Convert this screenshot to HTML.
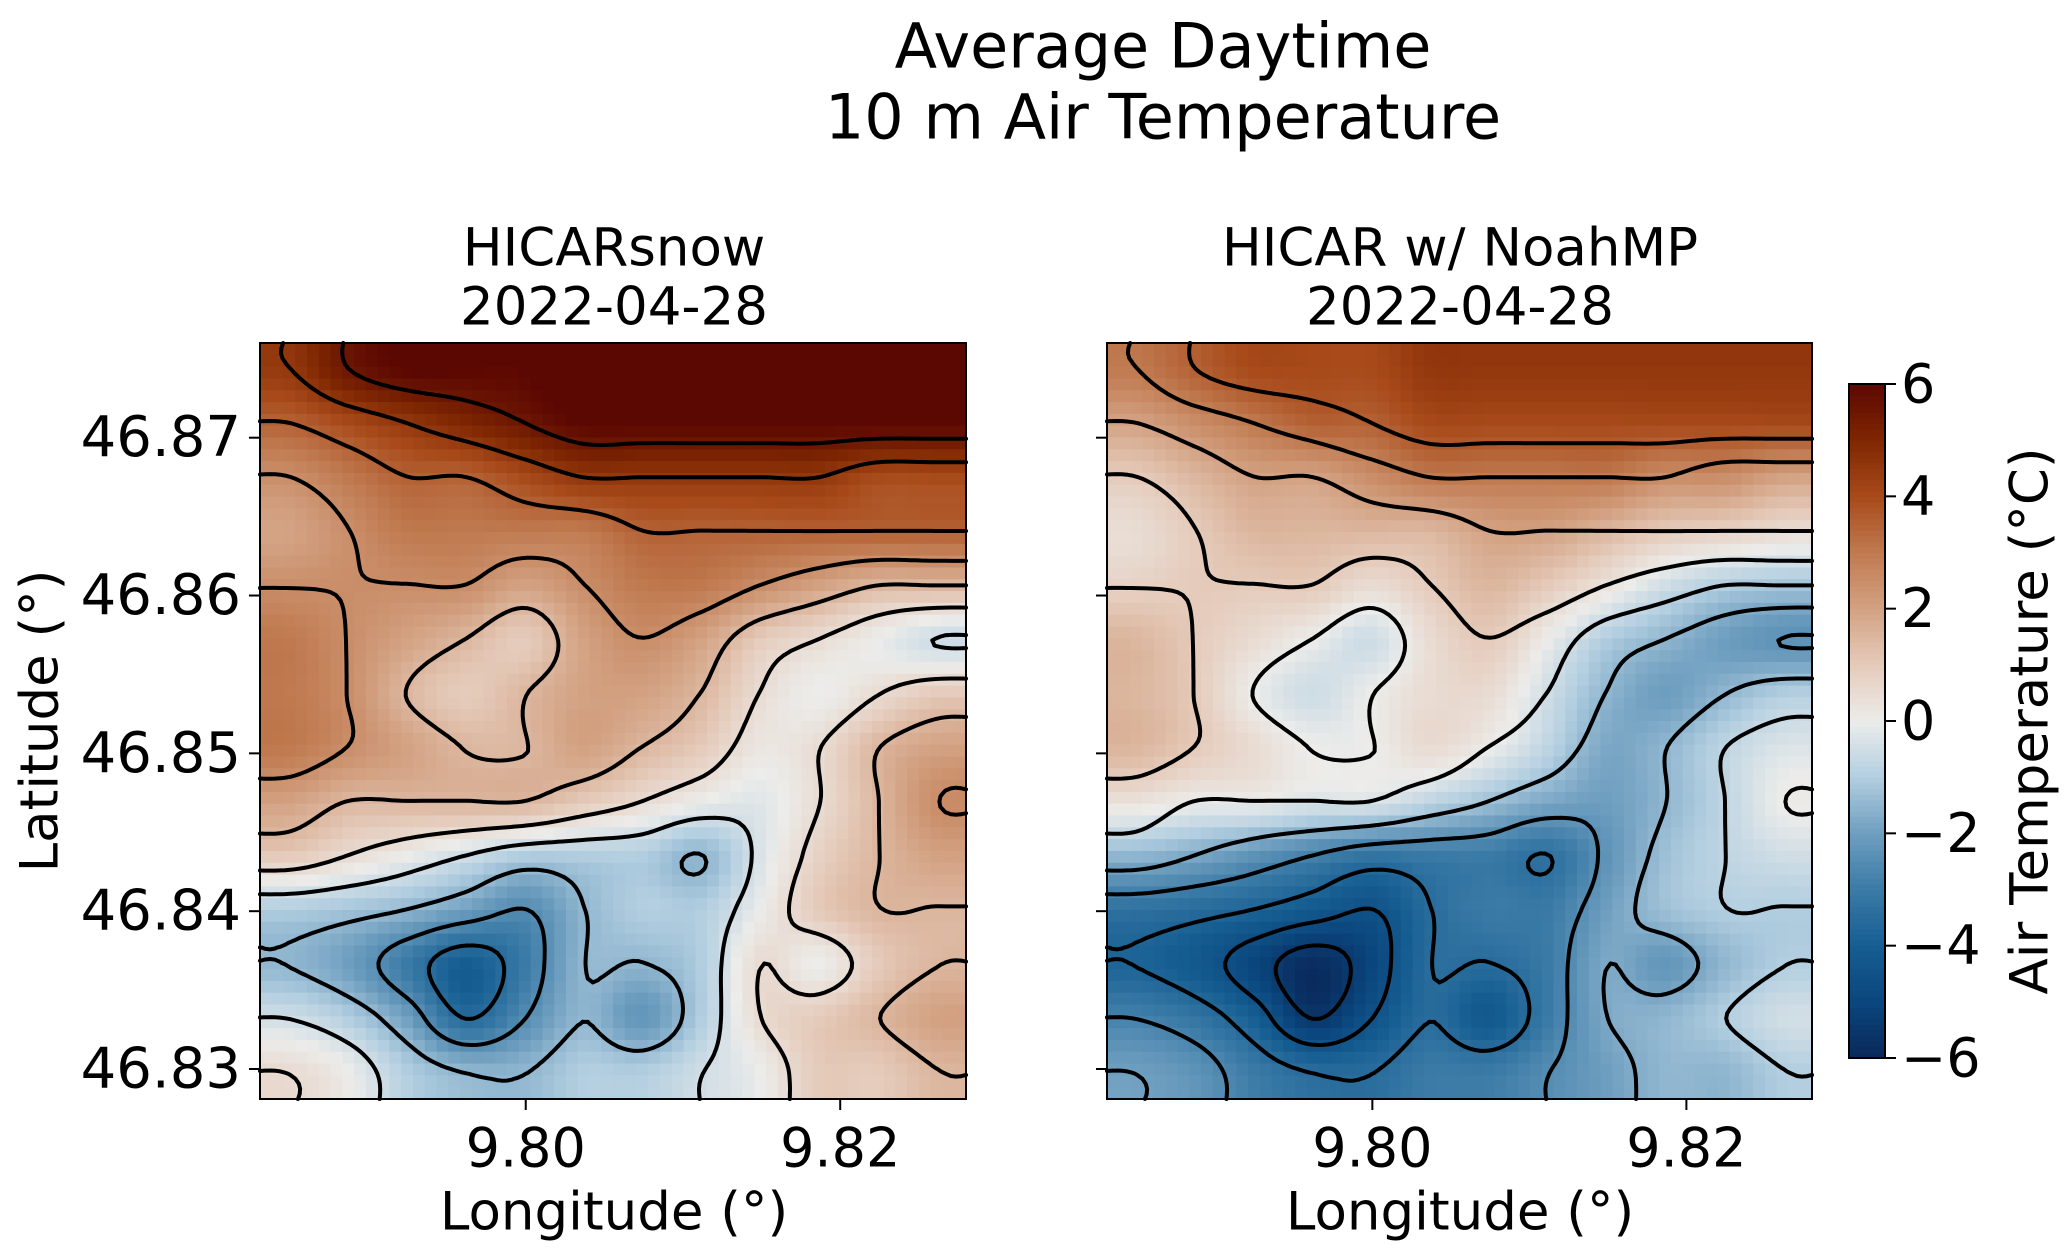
<!DOCTYPE html>
<html><head><meta charset="utf-8"><style>
html,body{margin:0;padding:0;background:#fff;}
svg text{font-family:"DejaVu Sans","Liberation Sans",sans-serif;fill:#000;}
</style></head><body>
<svg id="fig" width="2067" height="1253" viewBox="0 0 2067 1253" xmlns="http://www.w3.org/2000/svg">
<rect width="2067" height="1253" fill="#fff"/>
<text x="1163" y="46" font-size="62" text-anchor="middle" dominant-baseline="central">Average Daytime</text>
<text x="1163" y="117" font-size="62" text-anchor="middle" dominant-baseline="central">10 m Air Temperature</text>
<text x="614" y="248" font-size="53" text-anchor="middle" dominant-baseline="central">HICARsnow</text>
<text x="614" y="307" font-size="53" text-anchor="middle" dominant-baseline="central">2022-04-28</text>
<text x="1460" y="248" font-size="53" text-anchor="middle" dominant-baseline="central">HICAR w/ NoahMP</text>
<text x="1460" y="307" font-size="53" text-anchor="middle" dominant-baseline="central">2022-04-28</text>
<text x="40" y="721" font-size="53" text-anchor="middle" dominant-baseline="central" transform="rotate(-90 40 721)">Latitude (°)</text>
<text x="614" y="1212" font-size="53" text-anchor="middle" dominant-baseline="central">Longitude (°)</text>
<text x="1460" y="1212" font-size="53" text-anchor="middle" dominant-baseline="central">Longitude (°)</text>
<text x="2030" y="721" font-size="53" text-anchor="middle" dominant-baseline="central" transform="rotate(-90 2030 721)">Air Temperature (°C)</text>
<g id="left-panel"></g>
<g id="right-panel"></g>
<g id="colorbar"></g>
</svg>
<script>
const lonMin = 9.7831, lonMax = 9.8280, latMin = 46.8281, latMax = 46.8760;
const xTicks = [9.80, 9.82];
const xTickLabels = ["9.80", "9.82"];
const yTicks = [46.83, 46.84, 46.85, 46.86, 46.87];
const yTickLabels = ["46.83", "46.84", "46.85", "46.86", "46.87"];
const cbarTicks = [-6, -4, -2, 0, 2, 4, 6];
const cbarTickLabels = ["\u22126", "\u22124", "\u22122", "0", "2", "4", "6"];
const contourLevels = [-3.48, -2.48, -1.48, -0.48, 0.52, 1.52, 2.52, 3.52, 4.52, 5.52];
// rows top (north) to bottom (south), cols west to east
const tempSnow = [
 [4.5,5.5,6,6,6,6.5,6.5,6.5,6.5,6.5,6.5,6.5],
 [3.5,4,4.5,5,5.5,6,6,6,6,6,6,6],
 [2.5,3,3.5,3.5,4,4.5,4.5,4.5,4.5,4.5,4,4],
 [2,2.5,3,3,3,3,3.5,3.5,3.5,3.5,3.5,3.5],
 [2.5,2.5,2.5,2.5,2,2.5,3,3,2.5,2,1.5,1.5],
 [3,2.5,2,1.5,1,2,2.5,2,1,0.5,0,-0.5],
 [3,2.5,1.5,1,1.5,2,2,1.5,0.5,0,0.5,1],
 [3,2.5,2,1.5,1.5,2,1.5,1,0.2,0.5,1.5,2],
 [2,1.5,1.5,1.5,1.5,1,0.5,0,-0.2,0.5,1.5,2.5],
 [1,0.5,0,-0.5,-1,-1,-1,-1.5,-0.3,0.8,1.5,2],
 [-1,-1.2,-1.5,-2,-2.5,-1.5,-1,-1,0,1,1.5,1.5],
 [-1.5,-2,-3,-4,-3,-1.5,-1.5,-1,0.5,0,1,1.5],
 [-0.5,-1,-2,-3.5,-2.5,-1.5,-2.2,-1,0.5,1,1.5,2],
 [0.5,0,-1,-1.5,-1.5,-1,-1,-0.5,0,1,1,1.5]
];
const tempNoah = [
 [3,3.5,4,4,4,4.5,4.5,4.5,4.5,4.5,4.5,4.5],
 [2,2.5,3,3.5,3.5,4,4,4,4,4,4,4],
 [1,1.5,2,2,2.5,3,3,3,3,2.5,2.5,2],
 [0.5,1,1.5,1.5,1.5,1.5,2,2,1.5,1,0.8,0.5],
 [0.8,1,1,1,0.5,1,1.5,1,0.3,-0.5,-1,-1.2],
 [1.5,1,0.5,0,-0.5,0.5,1,0,-1,-1.5,-2,-2.3],
 [1.5,1,0,-0.5,0,0.5,0.5,-0.5,-1.5,-2,-1.5,-1],
 [1.5,1,0.5,0,0,0.5,0,-0.8,-1.8,-1.5,-0.8,-0.3],
 [0.3,0,0,-0.3,-0.3,-0.8,-1.3,-1.8,-2,-1.5,-0.8,0],
 [-1.5,-1.8,-2.3,-2.8,-3.2,-3,-3,-3.3,-2.3,-1.3,-0.8,-0.5],
 [-3.3,-3.5,-3.8,-4.2,-4.5,-3.5,-3,-3,-2,-1.3,-1,-1],
 [-3.8,-4.2,-5,-5.8,-5,-3.5,-3.5,-3,-1.8,-2.2,-1.5,-1],
 [-2.8,-3.2,-4,-5.5,-4.5,-3.5,-4.2,-3,-1.8,-1.5,-1,-0.5],
 [-2,-2.3,-3,-3.5,-3.5,-3,-3,-2.5,-2,-1.5,-1.5,-1]
];

const NS = "http://www.w3.org/2000/svg";
const colorStops = [
 [-6,[10,40,90]],[-5,[10,70,125]],[-4,[22,94,146]],[-3,[58,122,166]],[-2,[110,158,191]],
 [-1,[178,206,224]],[0,[236,236,234]],[1,[229,203,187]],[2,[211,162,131]],
 [3,[192,122,80]],[4,[168,74,26]],[5,[127,39,2]],[6,[92,8,2]]
];
function cmap(v){
  if(v<=-6) return "rgb(10,40,90)";
  if(v>=6) return "rgb(92,8,2)";
  for(let i=0;i<colorStops.length-1;i++){
    const a=colorStops[i], b=colorStops[i+1];
    if(v>=a[0]&&v<=b[0]){
      const t=(v-a[0])/(b[0]-a[0]);
      const c=a[1].map((x,k)=>Math.round(x+(b[1][k]-x)*t));
      return "rgb("+c.join(",")+")";
    }
  }
}
function el(tag, attrs, parent){
  const e=document.createElementNS(NS,tag);
  for(const k in attrs) e.setAttribute(k, attrs[k]);
  parent.appendChild(e); return e;
}
function cr(p0,p1,p2,p3,t){
  return 0.5*((2*p1)+(-p0+p2)*t+(2*p0-5*p1+4*p2-p3)*t*t+(-p0+3*p1-3*p2+p3)*t*t*t);
}
function sample(grid, u, v){ // bicubic Catmull-Rom, u east, v south
  const R=grid.length, C=grid[0].length;
  const fx=u*C-0.5, fy=v*R-0.5;
  const x1=Math.floor(fx), y1=Math.floor(fy);
  const tx=fx-x1, ty=fy-y1;
  const g=(y,x)=>grid[Math.max(0,Math.min(R-1,y))][Math.max(0,Math.min(C-1,x))];
  const rows=[];
  for(let dy=-1;dy<=2;dy++) rows.push(cr(g(y1+dy,x1-1),g(y1+dy,x1),g(y1+dy,x1+1),g(y1+dy,x1+2),tx));
  return cr(rows[0],rows[1],rows[2],rows[3],ty);
}
function drawPanel(gid, X0, X1, Y0, Y1, grid, contourGrid, showYLabels){
  const g=document.getElementById(gid);
  const xS=lon=>X0+(lon-lonMin)/(lonMax-lonMin)*(X1-X0);
  const yS=lat=>Y1-(lat-latMin)/(latMax-latMin)*(Y1-Y0);
  const NX=60, NY=64;
  const cw=(X1-X0)/NX, ch=(Y1-Y0)/NY;
  const hm=el("g",{},g);
  
  
  for(let j=0;j<NY;j++) for(let i=0;i<NX;i++){
    const lon=lonMin+(i+0.5)/NX*(lonMax-lonMin), lat=latMax-(j+0.5)/NY*(latMax-latMin);
    const u=(xS(lon)-X0)/(X1-X0), v=(yS(lat)-Y0)/(Y1-Y0);
    const r=el("rect",{x:(X0+i*cw).toFixed(2),y:(Y0+j*ch).toFixed(2),width:(cw+0.6).toFixed(2),height:(ch+0.6).toFixed(2),fill:cmap(sample(grid,u,v))},hm);
    
    
  }
  const MX=140, MY=150;
  const vals=[];
  for(let j=0;j<=MY;j++){const row=[];for(let i=0;i<=MX;i++)row.push(sample(contourGrid,i/MX,j/MY));vals.push(row);}
  const px=i=>X0+i/MX*(X1-X0), py=j=>Y0+j/MY*(Y1-Y0);
  let d="";
  for(const L of contourLevels){
    for(let j=0;j<MY;j++) for(let i=0;i<MX;i++){
      const a=vals[j][i], b=vals[j][i+1], c=vals[j+1][i+1], e=vals[j+1][i];
      const pts=[];
      const cross=(v1,v2,x1,y1,x2,y2)=>{ if((v1<L)!==(v2<L)){const t=(L-v1)/(v2-v1);pts.push([x1+(x2-x1)*t,y1+(y2-y1)*t]);} };
      cross(a,b,px(i),py(j),px(i+1),py(j));
      cross(b,c,px(i+1),py(j),px(i+1),py(j+1));
      cross(c,e,px(i+1),py(j+1),px(i),py(j+1));
      cross(e,a,px(i),py(j+1),px(i),py(j));
      for(let k=0;k+1<pts.length;k+=2) d+="M"+pts[k][0].toFixed(1)+" "+pts[k][1].toFixed(1)+"L"+pts[k+1][0].toFixed(1)+" "+pts[k+1][1].toFixed(1);
    }
  }
  const cp=el("path",{d:d,fill:"none",stroke:"#000","stroke-width":"4","stroke-linecap":"round"},g);
  
  
  const fr=el("rect",{x:X0,y:Y0,width:X1-X0,height:Y1-Y0,fill:"none",stroke:"#000","stroke-width":"2"},g);
  
  
  xTicks.forEach((t,k)=>{
    const x=xS(t);
    const tl=el("line",{x1:x,y1:Y1,x2:x,y2:Y1+11,stroke:"#000","stroke-width":"2"},g);
    
    
    const tx=el("text",{x:x,y:1148,"font-size":"54","text-anchor":"middle","dominant-baseline":"central"},g);
    tx.textContent=xTickLabels[k];
    
    
  });
  yTicks.forEach((t,k)=>{
    const y=yS(t);
    const tl=el("line",{x1:X0-11,y1:y,x2:X0,y2:y,stroke:"#000","stroke-width":"2"},g);
    
    
    if(showYLabels){
      const tx=el("text",{x:X0-19,y:y,"font-size":"56","text-anchor":"end","dominant-baseline":"central"},g);
      tx.textContent=yTickLabels[k];
      
      
    }
  });
}
drawPanel("left-panel",260,966,343,1099,tempSnow,tempSnow,true);
drawPanel("right-panel",1107,1812,343,1099,tempNoah,tempSnow,false);

(function(){
  const g=document.getElementById("colorbar");
  const CX0=1849, CX1=1885, CY0=384, CY1=1058;
  const cS=v=>CY1-(v+6)/12*(CY1-CY0);
  const N=120;
  for(let k=0;k<N;k++){
    const v=-6+(k+0.5)/N*12;
    const r=el("rect",{x:CX0,y:(cS(-6+(k+1)/N*12)).toFixed(2),width:CX1-CX0,height:((CY1-CY0)/N+0.6).toFixed(2),fill:cmap(v)},g);
    
    
  }
  const fr=el("rect",{x:CX0,y:CY0,width:CX1-CX0,height:CY1-CY0,fill:"none",stroke:"#000","stroke-width":"2"},g);
  
  
  cbarTicks.forEach((t,k)=>{
    const y=cS(t);
    const tl=el("line",{x1:CX1,y1:y,x2:CX1+11,y2:y,stroke:"#000","stroke-width":"2"},g);
    
    
    const tx=el("text",{x:CX1+16,y:y,"font-size":"54","text-anchor":"start","dominant-baseline":"central"},g);
    tx.textContent=cbarTickLabels[k];
    
    
  });
})();
</script>
</body></html>
